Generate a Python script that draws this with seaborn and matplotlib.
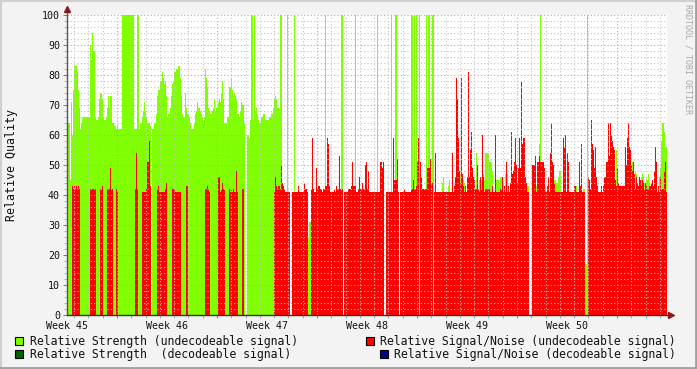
import numpy as np
import pandas as pd
import matplotlib
matplotlib.use("Agg")
import matplotlib.pyplot as plt
from matplotlib.patches import Rectangle
from matplotlib.lines import Line2D
import seaborn as sns

# ---------------- data (one step = 1/100 week) ----------------
week_labels = ["Week 45", "Week 46", "Week 47", "Week 48", "Week 49", "Week 50"]
first_week = 45
steps_per_week = 100
y_ticks = [0, 10, 20, 30, 40, 50, 60, 70, 80, 90, 100]

# Relative Strength (undecodeable signal): [value, run length]; None = no data
strength_runs = [
    [64, 3], [45, 1], [71, 1], [60, 1], [75, 1], [83, 3], [81, 1], [75, 1], [69, 1], [62, 1], [64, 1],
    [66, 8], [90, 1], [85, 1], [94, 1], [88, 2], [66, 1], [65, 2], [66, 1], [72, 1], [74, 2], [72, 1],
    [66, 1], [65, 2], [66, 1], [69, 1], [73, 1], [69, 1], [73, 2], [64, 2], [63, 2], [62, 1], [63, 1],
    [62, 4], [100, 12], [62, 3], [100, 2], [62, 1], [64, 2], [66, 1], [68, 1], [71, 1], [68, 1], [66, 1],
    [64, 3], [63, 1], [None, 1], [62, 2], [64, 2], [67, 1], [73, 1], [75, 2], [78, 2], [81, 1], [79, 1],
    [77, 1], [78, 1], [73, 1], [66, 1], [67, 2], [69, 1], [73, 1], [77, 1], [78, 1], [81, 2], [82, 2],
    [83, 2], [79, 1], [73, 1], [67, 1], [66, 2], [74, 1], [69, 1], [67, 2], [66, 1], [64, 1], [62, 3],
    [64, 1], [67, 1], [68, 1], [71, 1], [69, 2], [68, 1], [67, 1], [66, 1], [64, 1], [66, 1], [82, 1],
    [79, 1], [76, 1], [69, 1], [68, 1], [67, 2], [68, 1], [69, 1], [72, 1], [68, 1], [69, 2], [71, 1],
    [72, 1], [71, 1], [74, 1], [78, 1], [72, 1], [64, 3], [66, 2], [76, 2], [79, 1], [75, 1], [73, 1],
    [74, 1], [73, 1], [72, 1], [67, 2], [66, 1], [68, 1], [71, 1], [70, 2], [64, 1], [None, 2], [60, 2],
    [59, 1], [65, 1], [100, 2], [65, 1], [100, 1], [68, 1], [69, 1], [67, 1], [65, 1], [64, 2], [66, 2],
    [67, 2], [65, 4], [66, 2], [67, 2], [69, 1], [72, 1], [73, 1], [72, 1], [69, 3], [100, 2],
    [None, 5], [100, 1], [None, 6], [100, 1], [None, 13], [26, 1], [31, 2], [None, 14], [100, 1],
    [None, 15], [100, 2], [None, 12], [100, 1], [None, 21], [100, 1], [None, 13], [100, 1], [None, 3],
    [100, 2], [None, 14], [100, 2], [None, 1], [100, 1], [None, 1], [100, 1], [None, 2], [100, 1],
    [None, 6], [100, 1], [None, 1], [100, 2], [None, 2], [100, 2], [None, 8], [44, 1], [46, 1],
    [None, 4], [43, 1], [45, 1], [None, 10], [47, 1], [None, 2], [45, 1], [44, 1], [None, 11], [54, 1],
    [None, 2], [45, 1], [None, 1], [45, 1], [None, 1], [47, 1], [45, 1], [54, 4], [51, 3], [48, 1],
    [None, 3], [45, 3], [44, 1], [46, 2], [None, 1], [44, 1], [None, 1], [47, 3], [None, 19], [43, 2],
    [None, 6], [48, 1], [43, 1], [None, 2], [57, 1], [100, 1], [None, 3], [43, 2], [None, 8], [45, 2],
    [44, 2], [46, 1], [48, 2], [None, 15], [43, 1], [None, 6], [42, 2], [17, 2], [100, 1], [None, 28],
    [55, 1], [None, 15], [51, 1], [None, 2], [48, 1], [47, 1], [None, 4], [46, 1], [47, 1], [46, 1],
    [44, 1], [None, 1], [46, 1], [45, 1], [47, 1], [44, 1], [None, 9], [46, 1], [49, 1], [58, 1],
    [64, 2], [61, 1], [56, 2],
]

# Relative Signal/Noise (undecodeable signal)
snr_runs = [
    [None, 5], [43, 1], [42, 1], [43, 1], [42, 1], [43, 1], [42, 1], [43, 1], [42, 1], [None, 10],
    [42, 6], [None, 4], [42, 2], [43, 1], [None, 4], [42, 3], [49, 1], [42, 2], [None, 3], [42, 1],
    [41, 1], [None, 17], [42, 1], [54, 1], [42, 1], [None, 4], [41, 4], [42, 1], [51, 2], [58, 1],
    [43, 1], [None, 6], [42, 1], [43, 1], [41, 6], [42, 1], [44, 1], [None, 5], [42, 3], [41, 6],
    [None, 5], [43, 2], [None, 17], [42, 2], [43, 1], [42, 1], [41, 1], [None, 8], [46, 2], [41, 1],
    [42, 1], [44, 1], [42, 2], [None, 4], [42, 1], [41, 1], [42, 1], [41, 1], [42, 1], [41, 2], [48, 1],
    [41, 1], [None, 4], [42, 2], [None, 30], [41, 1], [46, 1], [43, 1], [42, 1], [43, 2], [42, 1],
    [50, 1], [44, 1], [43, 1], [42, 1], [41, 1], [41, 4], [None, 2], [41, 6], [43, 1], [41, 5],
    [44, 1], [42, 2], [41, 1], [None, 3], [42, 1], [59, 1], [42, 1], [41, 2], [49, 1], [42, 1],
    [43, 2], [42, 2], [41, 1], [42, 2], [43, 2], [59, 1], [57, 1], [43, 1], [41, 3], [41, 1], [42, 1],
    [41, 1], [43, 1], [42, 2], [53, 1], [42, 3], [None, 1], [41, 4], [42, 3], [43, 1], [51, 1], [43, 3],
    [41, 2], [42, 1], [46, 1], [42, 2], [44, 1], [42, 2], [50, 1], [51, 1], [42, 1], [48, 1], [41, 11],
    [51, 2], [49, 1], [51, 1], [None, 2], [41, 7], [59, 1], [45, 3], [52, 1], [41, 1], [None, 1],
    [41, 4], [42, 1], [41, 6], [42, 2], [45, 1], [42, 2], [43, 1], [51, 1], [59, 1], [None, 1], [51, 1],
    [46, 1], [42, 5], [49, 3], [52, 1], [44, 2], [None, 1], [41, 1], [54, 1], [41, 16], [54, 1], [41, 1],
    [43, 1], [46, 1], [79, 1], [72, 1], [59, 1], [48, 1], [44, 1], [79, 1], [47, 1], [43, 1], [41, 1],
    [43, 1], [41, 1], [46, 1], [81, 1], [46, 1], [55, 1], [61, 1], [49, 1], [46, 1], [45, 1], [42, 2],
    [50, 1], [42, 1], [41, 1], [46, 1], [42, 1], [60, 1], [46, 1], [41, 1], [42, 5], [41, 2], [43, 1],
    [41, 2], [60, 1], [41, 4], [42, 2], [46, 1], [41, 1], [43, 1], [41, 1], [51, 1], [41, 1], [43, 1],
    [41, 1], [44, 1], [61, 1], [47, 1], [48, 1], [51, 1], [59, 1], [50, 1], [44, 1], [49, 1], [59, 1],
    [49, 1], [78, 1], [57, 1], [59, 2], [46, 1], [44, 1], [41, 2], [None, 3], [50, 3], [53, 1], [41, 1],
    [51, 2], [53, 1], [51, 4], [49, 1], [41, 2], [43, 1], [46, 1], [41, 1], [54, 1], [64, 1], [51, 1],
    [50, 1], [44, 1], [41, 8], [59, 1], [56, 1], [60, 1], [41, 1], [54, 1], [51, 1], [41, 5], [43, 2],
    [41, 3], [51, 1], [43, 1], [57, 1], [41, 3], [None, 3], [46, 1], [45, 1], [42, 1], [65, 1], [57, 1],
    [55, 1], [49, 1], [56, 1], [46, 1], [43, 1], [41, 3], [43, 1], [41, 1], [43, 1], [46, 2], [51, 2],
    [64, 1], [53, 1], [64, 1], [60, 1], [58, 1], [56, 1], [55, 1], [45, 1], [43, 1], [49, 1], [44, 1],
    [43, 6], [56, 1], [50, 1], [59, 1], [64, 1], [56, 1], [55, 1], [50, 1], [48, 1], [51, 1], [47, 1],
    [42, 1], [46, 1], [44, 1], [43, 1], [46, 1], [45, 1], [43, 1], [45, 1], [44, 1], [42, 1], [44, 1],
    [43, 1], [42, 2], [43, 2], [44, 1], [45, 1], [43, 1], [48, 1], [56, 1], [51, 1], [41, 1], [43, 1],
    [41, 1], [46, 1], [42, 3], [48, 1], [51, 1], [41, 1],
]

# decodeable series: no samples in this period
strength_decodeable_runs = [[None, 600]]
snr_decodeable_runs = [[None, 600]]

series_names = [
    "Relative Strength (undecodeable signal)",
    "Relative Strength  (decodeable signal)",
    "Relative Signal/Noise (undecodeable signal)",
    "Relative Signal/Noise (decodeable signal)",
]
series_colors = ["#80FF00", "#006400", "#FF0000", "#000090"]


def expand(runs):
    vals = []
    for v, cnt in runs:
        vals.extend([np.nan if v is None else float(v)] * cnt)
    return np.array(vals, dtype=float)


strength = expand(strength_runs)
snr = expand(snr_runs)
strength_dec = expand(strength_decodeable_runs)
snr_dec = expand(snr_decodeable_runs)
n = 600
for arr in (strength, snr, strength_dec, snr_dec):
    assert len(arr) == n, len(arr)

t = first_week + (np.arange(n) + 0.5) / steps_per_week

# ---------------- figure ----------------
sns.set_style("white")
plt.rcParams["font.family"] = ["DejaVu Sans Mono"]

W, H = 697, 369
BG = "#F3F3F3"
fig = plt.figure(figsize=(W / 100, H / 100), dpi=100, facecolor=BG)
ax = fig.add_axes([67 / W, 54 / H, 600 / W, 300 / H])
ax.set_facecolor("white")

for vals, col in [(strength, series_colors[0]), (strength_dec, series_colors[1]),
                  (snr, series_colors[2]), (snr_dec, series_colors[3])]:
    w = np.nan_to_num(vals, nan=0.0)
    if w.sum() == 0:
        continue
    df = pd.DataFrame({"t": t, "w": w})
    sns.histplot(data=df, x="t", weights="w", bins=n, binrange=(first_week, first_week + 6),
                 element="step", fill=True, color=col, alpha=1, linewidth=0, ax=ax)

# crisp, pixel-wide columns like rrdtool
for c in ax.collections:
    c.set_antialiased(False)
    c.set_edgecolor("none")
for p in ax.patches:
    p.set_antialiased(False)

ax.set_xlim(first_week, first_week + 6)
ax.set_ylim(0, 100)
ax.set_xlabel("")
ax.set_ylabel("")
for s in ax.spines.values():
    s.set_visible(False)

# grid (drawn over the areas, like rrdtool)
day = 1 / 7
xs_minor = [first_week + (0.5 + k) * day for k in range(42)]
xs_major = [first_week + 0.5 + k for k in range(6)]
xs_minor = [x for x in xs_minor if min(abs(x - m) for m in xs_major) > 1e-6]
ys_major = list(range(10, 101, 10))
ys_minor = [y for y in range(2, 100, 2) if y % 10]
gcol, mcol = "#C4C4C4", "#F09090"
ax.hlines(ys_minor, first_week, first_week + 6, colors=gcol, lw=0.8, linestyles=(0, (1, 2)), zorder=5)
ax.vlines(xs_minor, 0, 100, colors=gcol, lw=0.8, linestyles=(0, (1, 2)), zorder=5)
ax.hlines(ys_major, first_week, first_week + 6, colors=mcol, lw=0.8, linestyles=(0, (1, 2)), zorder=6)
ax.vlines(xs_major, 0, 100, colors=mcol, lw=0.8, linestyles=(0, (1, 2)), zorder=6)

# ticks
ax.set_xticks([first_week + k for k in range(6)])
ax.set_xticklabels(week_labels, fontsize=7.2, color="#111111")
ax.tick_params(axis="x", length=0, pad=4.5)
ax.set_yticks(y_ticks)
ax.set_yticklabels([str(v) for v in y_ticks], fontsize=7.2, color="#111111")
ax.set_yticks(list(range(0, 101, 2)), minor=True)
ax.tick_params(axis="y", which="major", length=3, width=0.7, color="#777777", pad=2, left=True)
ax.tick_params(axis="y", which="minor", length=2, width=0.6, color="#AAAAAA", left=True)
# small ticks under the x axis
ax.vlines(xs_minor, -0.9, 0, colors="#AAAAAA", lw=0.7, clip_on=False, zorder=7)
ax.vlines(xs_major, -0.9, 0, colors="#E06060", lw=0.7, clip_on=False, zorder=7)

# axis lines with arrows
ax.plot([first_week, first_week], [0, 101.8], color="#555555", lw=1.0, clip_on=False, zorder=8)
ax.plot([first_week, first_week + 6.03], [0, 0], color="#333333", lw=1.0, clip_on=False, zorder=8)
ax.plot([first_week], [102.0], marker="^", color="#8B1A1A", ms=4.5, clip_on=False, zorder=9)
ax.plot([first_week + 6.04], [0], marker=">", color="#8B1A1A", ms=4.5, clip_on=False, zorder=9)

# y label and watermark
fig.text(12 / W, 1 - 165 / H, "Relative Quality", rotation=90, ha="center", va="center",
         fontsize=8.4, color="#111111")
fig.text(688 / W, 1 - 4 / H, "RRDTOOL / TOBI OETIKER", rotation=270, ha="center", va="top",
         fontsize=6.0, color="#A8A8A8")

# legend (rrdtool style)
legend_items = [
    (15, 337, 30, series_names[0], series_colors[0]),
    (15, 350, 30, series_names[1], series_colors[1]),
    (366, 337, 380, series_names[2], series_colors[2]),
    (380, 350, 394, series_names[3], series_colors[3]),
]
for bx, by, tx, label, col in legend_items:
    fig.add_artist(Rectangle((bx / W, 1 - (by + 8) / H), 8 / W, 8 / H, transform=fig.transFigure,
                             facecolor=col, edgecolor="black", lw=0.8))
    fig.text(tx / W, 1 - (by + 4.5) / H, label, ha="left", va="center", fontsize=8.3, color="#111111")

# frame
fig.add_artist(Line2D([0, 1], [1 - 0.5 / H] * 2, transform=fig.transFigure, color="#D0D0D0", lw=1.5))
fig.add_artist(Line2D([0.5 / W] * 2, [0, 1], transform=fig.transFigure, color="#D0D0D0", lw=1.5))
fig.add_artist(Line2D([0, 1], [1 / H] * 2, transform=fig.transFigure, color="#A0A0A0", lw=2))
fig.add_artist(Line2D([1 - 1 / W] * 2, [0, 1], transform=fig.transFigure, color="#A0A0A0", lw=2))

fig.savefig("out.png", dpi=100, facecolor=BG)
